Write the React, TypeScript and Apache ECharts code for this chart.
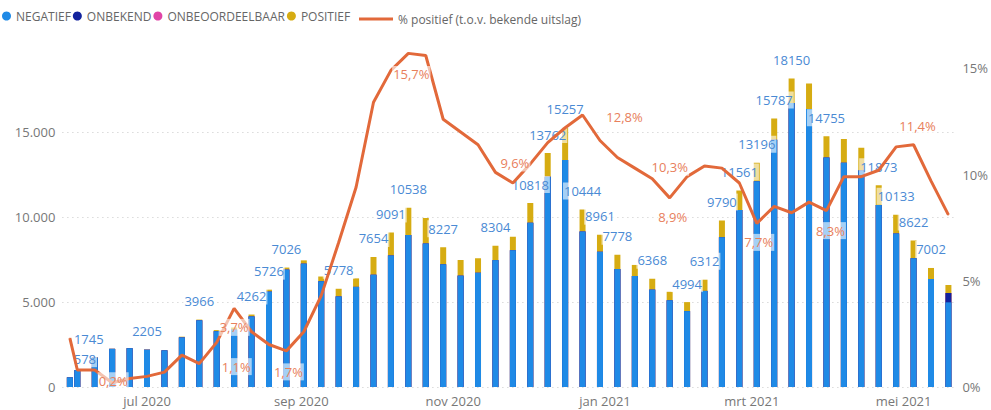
import React, { useEffect, useRef } from "react";
import * as echarts from "echarts";

// ---- DATA ----
const weeks = [
  "2020-05-31", "2020-06-03", "2020-06-10", "2020-06-17", "2020-06-24", "2020-07-01", "2020-07-08",
  "2020-07-15", "2020-07-22", "2020-07-29", "2020-08-05", "2020-08-12", "2020-08-19", "2020-08-26",
  "2020-09-02", "2020-09-09", "2020-09-16", "2020-09-23", "2020-09-30", "2020-10-07", "2020-10-14",
  "2020-10-21", "2020-10-28", "2020-11-04", "2020-11-11", "2020-11-18", "2020-11-25", "2020-12-02",
  "2020-12-09", "2020-12-16", "2020-12-23", "2020-12-30", "2021-01-06", "2021-01-13", "2021-01-20",
  "2021-01-27", "2021-02-03", "2021-02-10", "2021-02-17", "2021-02-24", "2021-03-03", "2021-03-10",
  "2021-03-17", "2021-03-24", "2021-03-31", "2021-04-07", "2021-04-14", "2021-04-21", "2021-04-28",
  "2021-05-05", "2021-05-12", "2021-05-19",
];

const negatief = [
  565, 992, 1731, 2245, 2281, 2194, 2155, 2916, 3922, 3280, 3370, 4151, 5611, 6906,
  7256, 6220, 5328, 5890, 6604, 7741, 8938, 8440, 7217, 6550, 6720, 7464, 8040, 9668,
  12362, 13357, 9144, 7961, 6938, 6530, 5728, 5100, 4464, 5652, 8810, 10411, 12096, 14537,
  16700, 16360, 13505, 13190, 12730, 10703, 9033, 7572, 6352, 4980,
];

const onbekend = [
  0, 0, 0, 0, 0, 0, 0, 0, 0, 0, 0, 0, 0, 0,
  0, 0, 0, 0, 0, 0, 0, 0, 0, 0, 0, 0, 0, 0,
  0, 0, 0, 0, 0, 0, 0, 0, 0, 0, 0, 0, 0, 0,
  0, 0, 0, 0, 0, 0, 0, 0, 0, 550,
];

const onbeoordeelbaar = [
  0, 0, 0, 0, 0, 0, 0, 0, 0, 0, 0, 0, 0, 0,
  0, 0, 0, 0, 0, 0, 0, 0, 0, 0, 0, 0, 0, 0,
  0, 0, 0, 0, 0, 0, 0, 0, 0, 0, 0, 0, 0, 0,
  0, 0, 0, 0, 0, 0, 0, 0, 0, 0,
];

const positief = [
  13, 8, 14, 5, 9, 11, 15, 44, 44, 70, 130, 111, 115, 120,
  194, 280, 450, 500, 1050, 1350, 1600, 1500, 1010, 920, 850, 840, 800, 1150,
  1400, 1900, 1300, 1000, 840, 650, 640, 500, 530, 660, 980, 1150, 1100, 1250,
  1450, 1500, 1250, 1400, 1350, 1170, 1100, 1050, 650, 470,
];

const pctPositief = [
  2.3, 0.8, 0.8, 0.2, 0.4, 0.5, 0.7, 1.5, 1.1, 2.1, 3.7, 2.6, 2.0, 1.7,
  2.6, 4.3, 6.8, 9.4, 13.4, 14.9, 15.7, 15.6, 12.6, 12.0, 11.4, 10.1, 9.6, 10.5,
  11.5, 12.2, 12.8, 11.6, 10.8, 10.3, 9.8, 8.9, 9.9, 10.4, 10.3, 9.6, 7.7, 8.5,
  8.2, 8.7, 8.3, 9.9, 9.9, 10.2, 11.3, 11.4, 9.7, 8.1,
];

// which bars / points carry a data label
const labeledBars = [0, 2, 5, 8, 11, 12, 13, 16, 18, 19, 20, 22, 25, 27, 28, 29, 30, 31, 32, 34, 36, 37, 38, 39, 40, 41, 42, 44, 47, 48, 49, 50];
const labeledPoints = [3, 8, 10, 13, 20, 26, 30, 33, 35, 40, 44, 49];

const xMin = "2020-05-28";
const xMax = "2021-05-21";
const monthTicks = ["2020-07-01", "2020-09-01", "2020-11-01", "2021-01-01", "2021-03-01", "2021-05-01"];
const monthNames = ["jan", "feb", "mrt", "apr", "mei", "jun", "jul", "aug", "sep", "okt", "nov", "dec"];

const seriesNames = ["NEGATIEF", "ONBEKEND", "ONBEOORDEELBAAR", "POSITIEF"];
const lineName = "% positief (t.o.v. bekende uitslag)";

// ---- helpers ----
const ts = (s: string) => {
  const [y, m, d] = s.split("-").map(Number);
  return new Date(y, m - 1, d).getTime();
};
const thousands = (v: number) => String(v).replace(/\B(?=(\d{3})+(?!\d))/g, ".");

// label placement styles (offsets in px, relative to the point)
const barLabelOffset: Record<number, [number, number]> = { 0: [15, 0], 2: [-6, 0] };
const pointLabelOffset: Record<number, [number, number]> = {
  3: [1, -2], 8: [37, 3], 10: [0, 19], 13: [2, 21], 20: [3, 21], 26: [2, -20],
  30: [42, 2], 33: [35, -1], 35: [3, 19], 40: [2, 19], 44: [4, 20], 49: [4, -19],
};

const FONT = "'Segoe UI', 'Open Sans', sans-serif";
const COLORS = ["#1f8ae6", "#12239e", "#e044a7", "#d6ac12"];
const LINE_COLOR = "#e2693a";

export default function App() {
  const ref = useRef<HTMLDivElement>(null);

  useEffect(() => {
    if (!ref.current) return;
    const chart = echarts.init(ref.current, undefined, { renderer: "svg" });

    const stacks = [negatief, onbekend, onbeoordeelbaar, positief];
    // cumulative tops of each stacked segment (bottom segment first)
    const cumulative = stacks.map((_, si) =>
      negatief.map((__, i) => stacks.slice(0, si + 1).reduce((s, arr) => s + arr[i], 0))
    );
    const totals = cumulative[3];

    const labelBg = "rgba(255,255,255,0.6)";

    // Draw the segments as overlapping bars of cumulative height: the tallest (top segment)
    // first, so every lower segment is painted over it.
    const barSeries = [3, 2, 1, 0].map((si) => ({
      name: seriesNames[si],
      type: "bar",
      barWidth: 6,
      barGap: "-100%",
      itemStyle: { color: COLORS[si] },
      z: 2,
      data: cumulative[si].map((v, i) => {
        const item: any = { value: [ts(weeks[i]), v] };
        if (si === 3 && labeledBars.includes(i)) {
          item.label = {
            show: true,
            position: "top",
            distance: 10,
            offset: barLabelOffset[i] || [0, 0],
            formatter: () => String(totals[i]),
            color: "#4a8ad4",
            fontSize: 13,
            fontFamily: FONT,
            backgroundColor: labelBg,
            padding: [2, 1],
          };
        }
        return item;
      }),
    }));

    const lineSeries = {
      name: lineName,
      type: "line",
      yAxisIndex: 1,
      symbol: "circle",
      symbolSize: 1,
      showSymbol: true,
      lineStyle: { color: LINE_COLOR, width: 3 },
      itemStyle: { color: LINE_COLOR },
      z: 5,
      data: pctPositief.map((v, i) => {
        const item: any = { value: [ts(weeks[i]), v] };
        if (labeledPoints.includes(i)) {
          item.label = {
            show: true,
            position: "inside",
            offset: pointLabelOffset[i] || [0, 0],
            formatter: () => v.toFixed(1).replace(".", ",") + "%",
            color: "#e8805c",
            fontSize: 13,
            fontFamily: FONT,
            backgroundColor: labelBg,
            padding: [2, 1],
          };
        }
        return item;
      }),
    };

    const option: any = {
      animation: false,
      textStyle: { fontFamily: FONT },
      legend: [
        {
          data: seriesNames,
          icon: "circle",
          itemWidth: 9,
          itemHeight: 9,
          itemGap: 2,
          left: 2,
          top: 10,
          padding: 0,
          textStyle: { color: "#666", fontSize: 12, fontFamily: FONT },
        },
        {
          data: [lineName],
          icon: "rect",
          itemWidth: 34,
          itemHeight: 3,
          left: 359,
          top: 10,
          padding: [3, 0],
          textStyle: { color: "#666", fontSize: 12, fontFamily: FONT },
        },
      ],
      grid: {
        left: 62.4,
        right: 37.6,
        top: 47,
        bottom: 23,
        containLabel: false,
      },
      xAxis: {
        type: "value",
        min: ts(xMin),
        max: ts(xMax),
        axisLine: { show: false },
        axisTick: { show: false },
        splitLine: { show: false },
        axisLabel: {
          customValues: monthTicks.map(ts),
          formatter: (val: number) => {
            const d = new Date(val);
            return monthNames[d.getMonth()] + " " + d.getFullYear();
          },
          color: "#777",
          fontSize: 13,
          margin: 7,
          fontFamily: FONT,
        },
      },
      yAxis: [
        {
          type: "value",
          min: 0,
          max: 20000,
          interval: 5000,
          axisLine: { show: false },
          axisTick: { show: false },
          axisLabel: {
            formatter: (v: number) => thousands(v),
            color: "#777",
            fontSize: 13,
            margin: 7,
            showMaxLabel: false,
            fontFamily: FONT,
          },
          splitLine: {
            show: true,
            showMaxLine: false,
            lineStyle: { color: "#c8c8c8", type: [1, 4], width: 1 },
          },
        },
        {
          type: "value",
          min: 0,
          max: 16,
          interval: 5,
          position: "right",
          axisLine: { show: false },
          axisTick: { show: false },
          splitLine: { show: false },
          axisLabel: {
            formatter: (v: number) => v + "%",
            color: "#777",
            fontSize: 13,
            margin: 9,
            showMaxLabel: false,
            fontFamily: FONT,
          },
        },
      ],
      series: [...barSeries, lineSeries],
    };

    chart.setOption(option);
    return () => chart.dispose();
  }, []);

  return (
    <div
      ref={ref}
      style={{ position: "absolute", left: 0, top: 0, width: 991, height: 410, background: "#fff" }}
    />
  );
}
